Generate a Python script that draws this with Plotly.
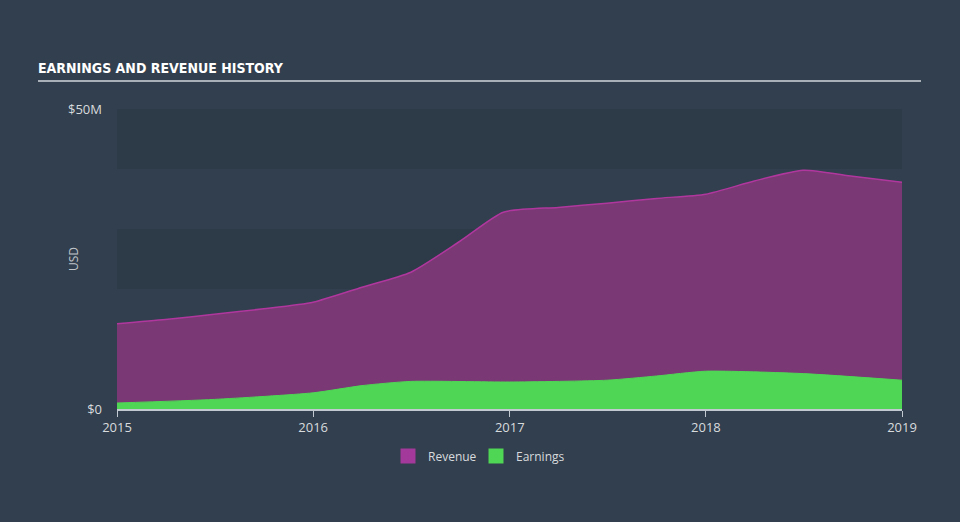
import plotly.graph_objects as go

rev_dates = ["2015-01-01", "2015-04-01", "2015-07-01", "2015-10-01", "2016-01-01",
             "2016-04-01", "2016-07-01", "2016-10-01", "2016-12-20", "2017-04-01",
             "2017-07-01", "2017-10-01", "2018-01-01", "2018-04-01", "2018-07-01",
             "2018-10-01", "2019-01-01"]
revenue = [14.2, 14.9, 15.8, 16.7, 17.8, 20.3, 22.8, 28.0, 32.8, 33.6, 34.3, 35.1,
           35.8, 38.0, 39.8, 38.8, 37.8]

earn_dates = ["2015-01-01", "2015-07-01", "2016-01-01", "2016-04-01", "2016-07-01",
              "2017-01-01", "2017-07-01", "2017-10-01", "2018-01-01", "2018-07-01",
              "2019-01-01"]
earnings = [1.0, 1.6, 2.7, 3.9, 4.6, 4.5, 4.8, 5.5, 6.3, 5.9, 4.8]

year_ticks = ["2015-01-01", "2016-01-01", "2017-01-01", "2018-01-01", "2019-01-01"]
year_labels = ["2015", "2016", "2017", "2018", "2019"]
y_ticks = [0, 50]
y_labels = ["$0", "$50M"]
band_edges = [(0, 10), (20, 30), (40, 50)]

REV_FILL = "#7a3874"
REV_LINE = "#b0379e"
EARN = "#4fd655"
TXT = "#d8dbde"

fig = go.Figure()
fig.add_trace(go.Scatter(
    x=rev_dates, y=revenue, name="Revenue", mode="lines", showlegend=False,
    line=dict(color=REV_LINE, width=1.5, shape="spline", smoothing=0.6),
    fill="tozeroy", fillcolor=REV_FILL, hoverinfo="skip"))
fig.add_trace(go.Scatter(
    x=earn_dates, y=earnings, name="Earnings", mode="lines", showlegend=False,
    line=dict(color=EARN, width=1, shape="spline", smoothing=0.6),
    fill="tozeroy", fillcolor=EARN, hoverinfo="skip"))
# legend entries with square swatches
fig.add_trace(go.Scatter(x=[None], y=[None], name="Revenue", mode="markers",
                         marker=dict(symbol="square", size=15, color="#a3399a"),
                         legend="legend"))
fig.add_trace(go.Scatter(x=[None], y=[None], name="Earnings", mode="markers",
                         marker=dict(symbol="square", size=15, color=EARN),
                         legend="legend2"))

shapes = []
for y0, y1 in band_edges:
    shapes.append(dict(type="rect", xref="paper", yref="y", x0=0, x1=1, y0=y0, y1=y1,
                       fillcolor="#2c3947", line=dict(width=0), layer="below", opacity=0.8))
shapes.append(dict(type="line", xref="paper", yref="paper",
                   x0=(38 - 117) / 785, x1=(921 - 117) / 785,
                   y0=(409 - 81) / 300, y1=(409 - 81) / 300,
                   line=dict(color="#a9b0b8", width=2)))

leg_common = dict(orientation="h", xanchor="left", y=(409 - 456) / 300, yanchor="middle",
                  font=dict(family="Open Sans", size=12, color=TXT),
                  bgcolor="rgba(0,0,0,0)", itemwidth=30)

fig.update_layout(
    width=960, height=522,
    margin=dict(l=117, r=58, t=109, b=113),
    paper_bgcolor="#323f4e", plot_bgcolor="rgba(0,0,0,0)",
    shapes=shapes,
    title=dict(text="<b>EARNINGS AND REVENUE HISTORY</b>", xref="container", yref="container",
               x=38 / 960, y=(522 - 68) / 522, xanchor="left", yanchor="middle",
               font=dict(family="DejaVu Sans Condensed", size=14, color="#ffffff")),
    annotations=[dict(text="USD", xref="paper", yref="paper", x=(73 - 117) / 785, y=0.5,
                      textangle=-90, showarrow=False, xanchor="center", yanchor="middle",
                      font=dict(family="Open Sans", size=12, color="#c0c5ca"))],
    xaxis=dict(type="date", range=["2015-01-01", "2019-01-01"],
               tickvals=year_ticks, ticktext=year_labels,
               showgrid=False, zeroline=False, showline=True, linecolor="#c3c9d0",
               linewidth=1.5, ticks="outside", ticklen=6, tickcolor="#c3c9d0",
               tickfont=dict(family="Open Sans", size=13, color=TXT)),
    yaxis=dict(range=[0, 50], tickvals=y_ticks, ticktext=y_labels,
               showgrid=False, zeroline=False, showline=False, ticks="",
               ticklabelstandoff=14,
               tickfont=dict(family="Open Sans", size=13, color=TXT)),
    legend=dict(leg_common, x=(388 - 117) / 785),
    legend2=dict(leg_common, x=(476 - 117) / 785),
    showlegend=True,
)

fig.write_html("out.html")
